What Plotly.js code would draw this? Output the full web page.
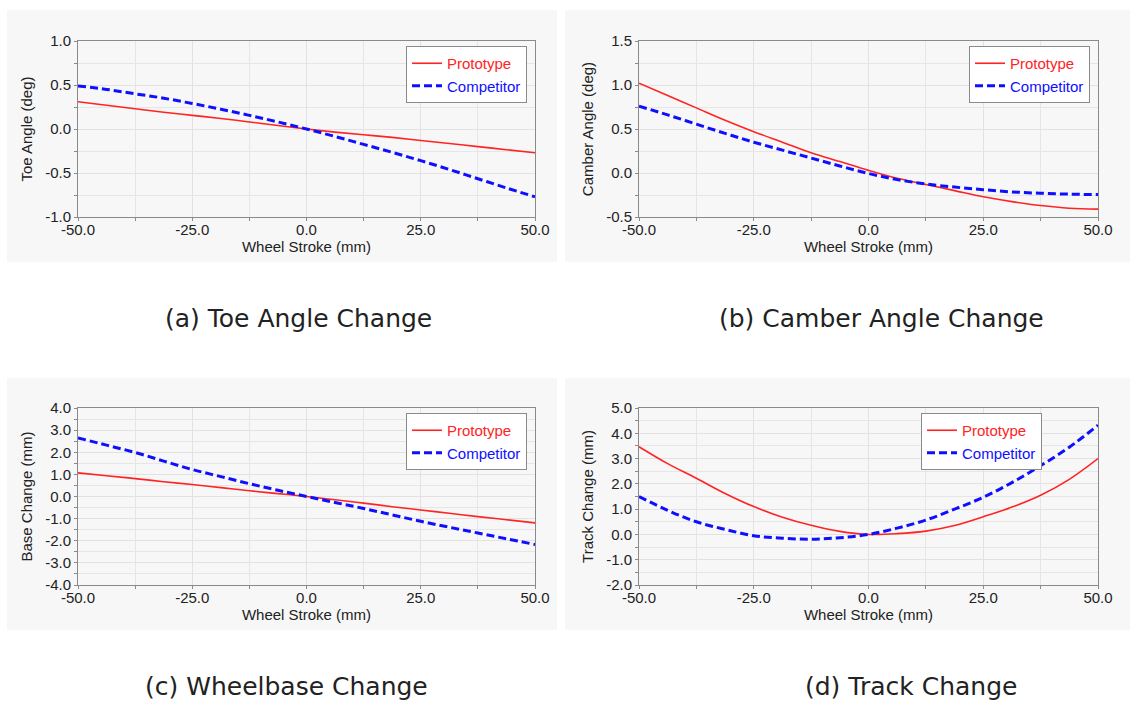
<!DOCTYPE html>
<html>
<head>
<meta charset="utf-8">
<script src="https://cdn.plot.ly/plotly-3.0.1.min.js"></script>
<style>
html,body{margin:0;padding:0;background:#fff;}
#chart{width:1130px;height:701px;}
</style>
</head>
<body>
<div id="chart"></div>
<script>
// ---- data ----
const stroke = [-50, -43.75, -37.5, -31.25, -25, -18.75, -12.5, -6.25, 0, 6.25, 12.5, 18.75, 25, 31.25, 37.5, 43.75, 50];

const toeProto = [0.31, 0.27, 0.23, 0.19, 0.155, 0.12, 0.08, 0.04, 0.0, -0.035, -0.065, -0.095, -0.13, -0.165, -0.20, -0.235, -0.27];
const toeComp  = [0.49, 0.45, 0.40, 0.35, 0.29, 0.225, 0.155, 0.08, 0.0, -0.085, -0.175, -0.265, -0.36, -0.46, -0.565, -0.67, -0.77];

const camProto = [1.02, 0.88, 0.74, 0.60, 0.47, 0.35, 0.23, 0.13, 0.03, -0.06, -0.13, -0.20, -0.27, -0.325, -0.37, -0.40, -0.41];
const camComp  = [0.76, 0.66, 0.555, 0.45, 0.35, 0.26, 0.17, 0.08, -0.005, -0.075, -0.125, -0.16, -0.19, -0.215, -0.23, -0.24, -0.245];

const baseProto = [1.07, 0.94, 0.81, 0.67, 0.54, 0.40, 0.26, 0.13, 0.0, -0.15, -0.30, -0.46, -0.61, -0.76, -0.91, -1.05, -1.19];
const baseComp  = [2.65, 2.32, 1.99, 1.60, 1.22, 0.90, 0.58, 0.28, 0.0, -0.27, -0.54, -0.83, -1.12, -1.39, -1.65, -1.91, -2.17];

const trackProto = [3.47, 2.80, 2.22, 1.62, 1.10, 0.68, 0.36, 0.12, 0.0, 0.03, 0.13, 0.35, 0.70, 1.08, 1.55, 2.18, 3.0];
const trackComp  = [1.50, 0.95, 0.50, 0.20, -0.05, -0.15, -0.19, -0.13, 0.0, 0.25, 0.57, 1.00, 1.47, 2.05, 2.72, 3.45, 4.32];

const seriesNames = ['Prototype', 'Competitor'];
const xTickVals = [-50, -25, 0, 25, 50];
const xTickText = ['-50.0', '-25.0', '0.0', '25.0', '50.0'];

const toeTickVals = [-1, -0.5, 0, 0.5, 1];
const toeTickText = ['-1.0', '-0.5', '0.0', '0.5', '1.0'];
const camTickVals = [-0.5, 0, 0.5, 1, 1.5];
const camTickText = ['-0.5', '0.0', '0.5', '1.0', '1.5'];
const baseTickVals = [-4, -3, -2, -1, 0, 1, 2, 3, 4];
const baseTickText = ['-4.0', '-3.0', '-2.0', '-1.0', '0.0', '1.0', '2.0', '3.0', '4.0'];
const trackTickVals = [-2, -1, 0, 1, 2, 3, 4, 5];
const trackTickText = ['-2.0', '-1.0', '0.0', '1.0', '2.0', '3.0', '4.0', '5.0'];

const yTitles = ['Toe Angle (deg)', 'Camber Angle (deg)', 'Base Change (mm)', 'Track Change (mm)'];
const xTitle = 'Wheel Stroke (mm)';
const captions = ['(a) Toe Angle Change', '(b) Camber Angle Change', '(c) Wheelbase Change', '(d) Track Change'];

// ---- layout helpers ----
const W = 1130, H = 701;
const px = v => v / W;
const py = v => 1 - v / H;

const RED = 'rgb(255,35,35)';
const BLUE = 'rgb(15,15,255)';
const FONT = 'Liberation Sans, Arial, sans-serif';

const panels = [
  {xd: [78, 535], yd: [41, 217], proto: toeProto, comp: toeComp, yr: [-1, 1], ytv: toeTickVals, ytt: toeTickText, ym: 0.25, bg: [7, 10, 557, 262], leg: [527, 46]},
  {xd: [639, 1098], yd: [41, 217], proto: camProto, comp: camComp, yr: [-0.5, 1.5], ytv: camTickVals, ytt: camTickText, ym: 0.25, bg: [565, 10, 1130, 262], leg: [1090, 46]},
  {xd: [78, 535], yd: [408, 585], proto: baseProto, comp: baseComp, yr: [-4, 4], ytv: baseTickVals, ytt: baseTickText, ym: 0.5, bg: [7, 378, 557, 630], leg: [527, 413]},
  {xd: [639, 1098], yd: [408, 585], proto: trackProto, comp: trackComp, yr: [-2, 5], ytv: trackTickVals, ytt: trackTickText, ym: 0.5, bg: [565, 378, 1130, 630], leg: [1042, 413]}
];
const capPos = [[298, 318], [882, 318], [286, 686], [911, 686]];

const data = [];
const layout = {
  width: W, height: H,
  margin: {l: 0, r: 0, t: 0, b: 0},
  paper_bgcolor: '#ffffff',
  plot_bgcolor: '#ffffff',
  font: {family: FONT, size: 15, color: '#222'},
  showlegend: true,
  shapes: [],
  annotations: []
};

panels.forEach((p, i) => {
  const n = i + 1;
  const xa = 'x' + (n === 1 ? '' : n);
  const ya = 'y' + (n === 1 ? '' : n);
  const legName = 'legend' + (n === 1 ? '' : n);
  data.push({
    x: stroke, y: p.proto, xaxis: xa, yaxis: ya, type: 'scatter', mode: 'lines',
    name: '<span style="color:' + RED + '">' + seriesNames[0] + '</span>',
    line: {color: RED, width: 1.6, shape: 'spline'}, legend: legName, hoverinfo: 'x+y'
  });
  data.push({
    x: stroke, y: p.comp, xaxis: xa, yaxis: ya, type: 'scatter', mode: 'lines',
    name: '<span style="color:' + BLUE + '">' + seriesNames[1] + '</span>',
    line: {color: BLUE, width: 3, dash: '8px,4px', shape: 'spline'}, legend: legName, hoverinfo: 'x+y'
  });
  const axCommon = {
    showline: true, mirror: true, linecolor: '#8a8a8a', linewidth: 1,
    showgrid: true, gridcolor: '#e2e2e2', gridwidth: 1,
    zeroline: false, ticks: 'outside', ticklen: 3, tickcolor: '#8a8a8a',
    tickfont: {family: FONT, size: 15, color: '#222'},
    tickmode: 'array', fixedrange: true
  };
  layout['xaxis' + (n === 1 ? '' : n)] = Object.assign({}, axCommon, {
    domain: [px(p.xd[0]), px(p.xd[1])], anchor: ya, range: [-50, 50],
    tickvals: xTickVals, ticktext: xTickText, ticklabelstandoff: -4,
    minor: {tickmode: 'linear', tick0: -50, dtick: 12.5, showgrid: true, gridcolor: '#e6e6e6', ticks: 'outside', ticklen: 3, tickcolor: '#8a8a8a'},
    title: {text: xTitle, font: {family: FONT, size: 15, color: '#222'}, standoff: 0}
  });
  layout['yaxis' + (n === 1 ? '' : n)] = Object.assign({}, axCommon, {
    domain: [py(p.yd[1]), py(p.yd[0])], anchor: xa, range: p.yr,
    tickvals: p.ytv, ticktext: p.ytt,
    minor: {tickmode: 'linear', tick0: p.yr[0], dtick: p.ym, showgrid: true, gridcolor: '#e6e6e6', ticks: 'outside', ticklen: 3, tickcolor: '#8a8a8a'},
    title: {text: yTitles[i], font: {family: FONT, size: 15, color: '#222'}, standoff: 8}
  });
  layout[legName] = {
    x: px(p.leg[0]), y: py(p.leg[1]), xanchor: 'right', yanchor: 'top',
    xref: 'paper', yref: 'paper',
    bgcolor: '#ffffff', bordercolor: '#8a8a8a', borderwidth: 1,
    font: {family: FONT, size: 15}, tracegroupgap: 0, itemwidth: 30
  };
  layout.shapes.push({
    type: 'rect', xref: 'paper', yref: 'paper', layer: 'below',
    x0: px(p.bg[0]), x1: px(p.bg[2]), y0: py(p.bg[3]), y1: py(p.bg[1]),
    fillcolor: '#f7f7f7', line: {width: 0}
  });
  layout.annotations.push({
    xref: 'paper', yref: 'paper', x: px(capPos[i][0]), y: py(capPos[i][1]),
    xanchor: 'center', yanchor: 'middle', showarrow: false,
    text: captions[i], font: {family: 'DejaVu Sans, sans-serif', size: 25, color: '#222'}
  });
});

Plotly.newPlot('chart', data, layout, {staticPlot: true, displayModeBar: false});
</script>
</body>
</html>
